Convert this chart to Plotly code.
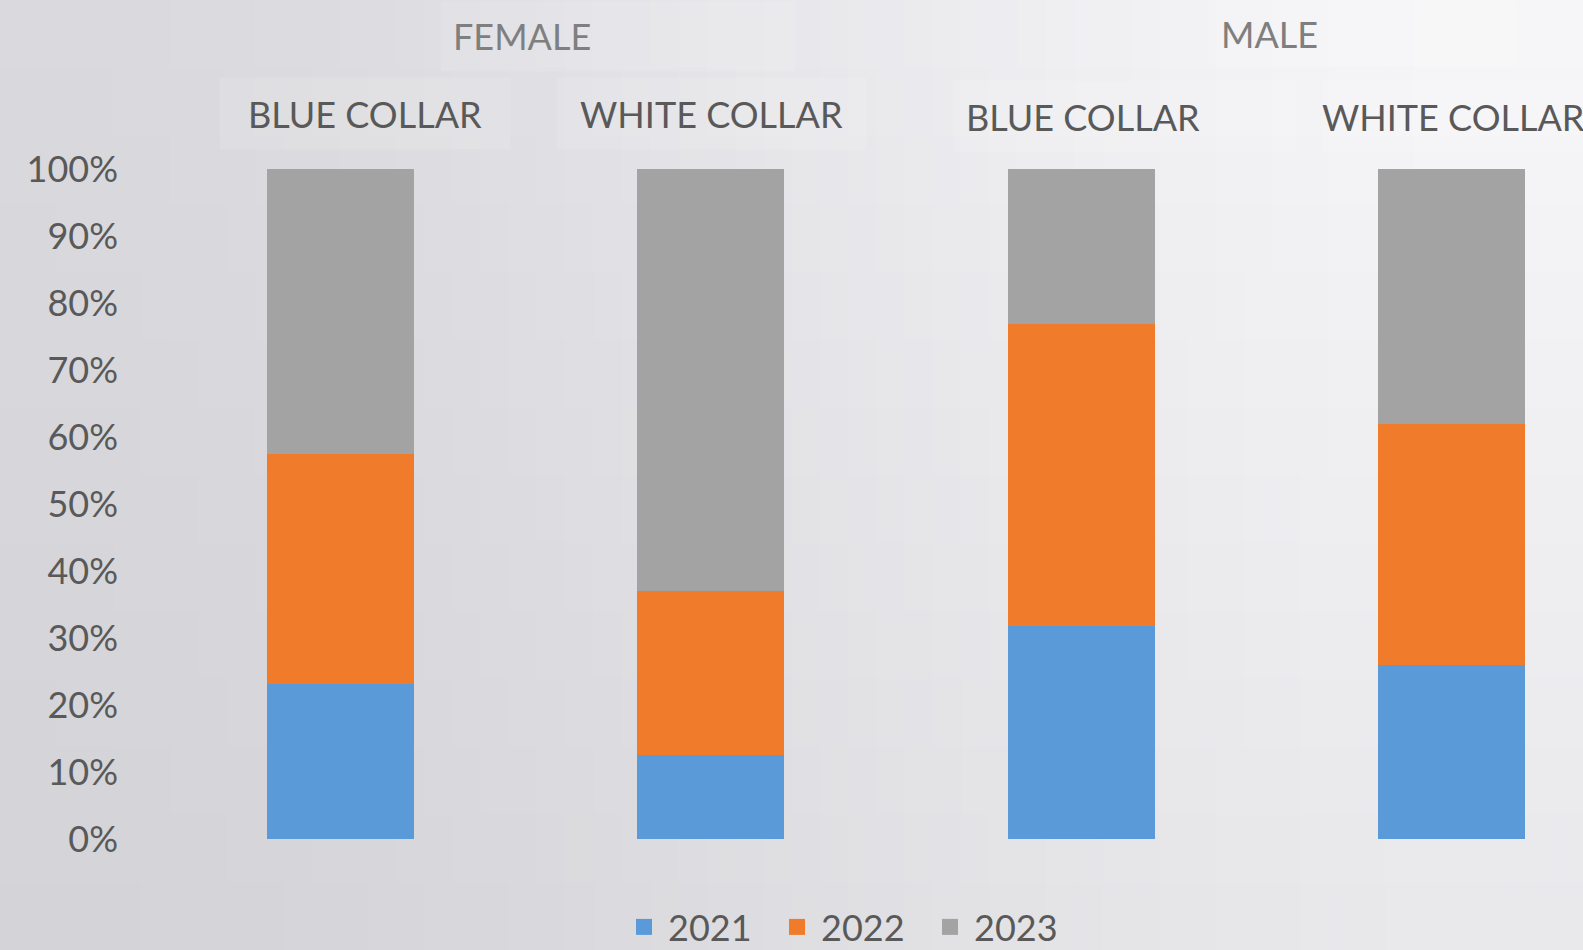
import plotly.graph_objects as go

# ---- data -------------------------------------------------------------
genders = ["FEMALE", "MALE"]
collars = ["BLUE COLLAR", "WHITE COLLAR"]
categories = [f"{g} | {c}" for g in genders for c in collars]

years = ["2021", "2022", "2023"]
share_2021 = [23.2, 12.6, 31.8, 25.9]
share_2022 = [34.3, 24.4, 45.1, 36.1]
share_2023 = [42.5, 63.0, 23.1, 38.0]
series = [share_2021, share_2022, share_2023]

y_ticks = list(range(0, 101, 10))

# ---- style ------------------------------------------------------------
colors = ["#5a9ad8", "#ef7b2b", "#a3a3a3"]
FONT = "Lato"
W, H = 1583, 950
ML, MR, MT, MB = 155, 0, 169, 111
PW, PH = W - ML - MR, H - MT - MB
X_MAX = -0.5 + PW / 370.5  # only part of the last slot fits on the page

fig = go.Figure()

for name, vals, col in zip(years, series, colors):
    fig.add_trace(go.Bar(
        x=categories, y=vals, name=name, legendgroup=name, showlegend=False,
        marker=dict(color=col, line=dict(width=0)),
        hovertemplate="%{x}<br>" + name + ": %{y:.1f}%<extra></extra>",
    ))
    # square swatch for the legend entry
    fig.add_trace(go.Scatter(
        x=[None], y=[None], mode="markers", name=name, legendgroup=name,
        marker=dict(symbol="square", size=21, color=col),
    ))

# ---- soft background gradient (light toward the upper right) ----------
def bg_color(xn, yn):
    s = 3 * xn ** 2 - 2 * xn ** 3
    v = 217 + 30 * s - 6 * yn - 8 * s * yn
    b = min(255, v + 5 * (1 - 0.6 * xn))
    return f"rgb({v:.0f},{v:.0f},{b:.0f})"

shapes = []
NX, NY = 56, 14
for i in range(NX):
    for j in range(NY):
        x0p, x1p = W * i / NX, W * (i + 1) / NX
        y0p, y1p = H * j / NY, H * (j + 1) / NY
        shapes.append(dict(
            type="rect", layer="below", xref="paper", yref="paper",
            x0=(x0p - ML) / PW, x1=(x1p + 1 - ML) / PW,
            y0=(H - MB - y1p - 1) / PH, y1=(H - MB - y0p) / PH,
            line=dict(width=0), fillcolor=bg_color((i + 0.5) / NX, (j + 0.5) / NY),
        ))

# ---- header labels ----------------------------------------------------
def px_to_paper_y(py):
    return (H - MB - py) / PH

annotations = []
box_bg = "rgba(255,255,255,0.12)"
# inner labels: (category index, x shift, anchor, align, box width, box height, pad, box top)
inner = [
    (0, 24.5, "center", "center", 266, 47, 12, 77),
    (1, 0.5, "center", "center", 285, 47, 12, 77),
    (2, -128.5, "left", "left", 317, 47, 12, 80),
    (3, -131, "left", "left", 262, 71, 0, 80),
]
for (idx, xs, anchor, align, bw, bh, pad, top), cat in zip(inner, categories):
    annotations.append(dict(
        x=idx, xref="x", y=px_to_paper_y(top), yref="paper",
        xanchor=anchor, yanchor="top", xshift=xs,
        text=cat.split(" | ")[1], showarrow=False, align=align, valign="middle",
        width=bw, height=bh, borderpad=pad, bgcolor=box_bg,
        font=dict(family=FONT, size=36, color="#595959"),
    ))
# outer labels: gender groups centred over their pair of bars
outer = [(-85.75, 330, 46), (-58.75, 283, 41)]
for k, (g, (xs, bw, bh)) in enumerate(zip(genders, outer)):
    annotations.append(dict(
        x=2 * k + 0.5, xref="x", y=px_to_paper_y(0), yref="paper",
        xanchor="left", yanchor="top", xshift=xs,
        text=g, showarrow=False, align="left", valign="middle",
        width=bw, height=bh, borderpad=12, bgcolor=box_bg,
        font=dict(family=FONT, size=36, color="#7f7f7f"),
    ))

fig.update_layout(
    template="none",
    width=W, height=H,
    margin=dict(l=ML, r=MR, t=MT, b=MB, autoexpand=False),
    paper_bgcolor="#e4e4e8",
    plot_bgcolor="rgba(0,0,0,0)",
    barmode="stack",
    bargap=0.603,
    shapes=shapes,
    annotations=annotations,
    showlegend=True,
    legend=dict(
        orientation="h", x=(620 - ML) / PW, xanchor="left",
        y=px_to_paper_y(927), yanchor="middle",
        font=dict(family=FONT, size=36, color="#595959"),
        bgcolor="rgba(0,0,0,0)", entrywidth=100, itemwidth=38,
        traceorder="normal",
    ),
    xaxis=dict(
        type="category", categoryorder="array", categoryarray=categories,
        range=[-0.5, X_MAX], showticklabels=False, showgrid=False,
        zeroline=False, showline=False, ticks="", automargin=False,
    ),
    yaxis=dict(
        range=[0, 100], tickvals=y_ticks, ticktext=[f"{t}%" for t in y_ticks],
        showgrid=False, zeroline=False, showline=False, ticks="",
        ticklabelstandoff=36, automargin=False,
        tickfont=dict(family=FONT, size=36, color="#595959"),
    ),
    font=dict(family=FONT),
)

fig.write_html("out.html")
